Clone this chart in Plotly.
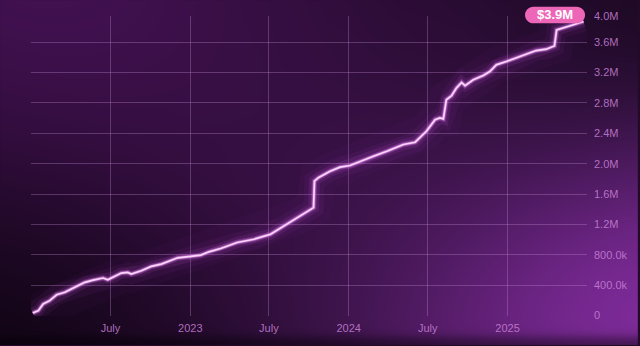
import base64, struct, zlib
import numpy as np
import pandas as pd
import plotly.graph_objects as go

# ---------------- data ----------------
dates = ["2022-01-03", "2022-01-16", "2022-01-27", "2022-02-11", "2022-02-27", "2022-03-18",
         "2022-04-10", "2022-05-03", "2022-05-22", "2022-06-14", "2022-06-25", "2022-07-07",
         "2022-07-26", "2022-08-10", "2022-08-18", "2022-09-10", "2022-10-03", "2022-10-26",
         "2022-12-03", "2023-01-02", "2023-01-25", "2023-02-13", "2023-03-12", "2023-04-19",
         "2023-05-28", "2023-07-05", "2023-08-04", "2023-09-11", "2023-10-12", "2023-10-14",
         "2023-10-23", "2023-11-19", "2023-12-12", "2024-01-04", "2024-01-27", "2024-02-27",
         "2024-03-29", "2024-05-06", "2024-06-02", "2024-06-28", "2024-07-18", "2024-07-29",
         "2024-08-06", "2024-08-13", "2024-08-25", "2024-09-05", "2024-09-17", "2024-09-25",
         "2024-10-14", "2024-11-06", "2024-11-21", "2024-12-06", "2024-12-29", "2025-01-29",
         "2025-03-08", "2025-03-31", "2025-04-19", "2025-04-24", "2025-05-08", "2025-05-31",
         "2025-06-25"]
values = [35e3, 66e3, 153e3, 197e3, 275e3, 307e3,
          373e3, 438e3, 468e3, 495e3, 472e3, 504e3,
          560e3, 569e3, 547e3, 590e3, 648e3, 678e3,
          761e3, 779e3, 796e3, 840e3, 884e3, 963e3,
          1006e3, 1072e3, 1181e3, 1312e3, 1422e3, 1771e3,
          1816e3, 1902e3, 1955e3, 1977e3, 2033e3, 2099e3,
          2165e3, 2253e3, 2283e3, 2427e3, 2580e3, 2603e3,
          2590e3, 2843e3, 2895e3, 2996e3, 3070e3, 3027e3,
          3105e3, 3162e3, 3214e3, 3302e3, 3345e3, 3411e3,
          3490e3, 3508e3, 3551e3, 3761e3, 3784e3, 3827e3,
          3873e3]

x_tick_vals = ["2022-01-01", "2022-07-01", "2023-01-01", "2023-07-01",
               "2024-01-01", "2024-07-01", "2025-01-01", "2025-07-01"]
x_tick_text = ["", "July", "2023", "July", "2024", "July", "2025", ""]
y_tick_vals = [0, 400e3, 800e3, 1.2e6, 1.6e6, 2.0e6, 2.4e6, 2.8e6, 3.2e6, 3.6e6]
y_tick_text = ["0", "400.0k", "800.0k", "1.2M", "1.6M", "2.0M", "2.4M", "2.8M", "3.2M", "3.6M"]
y_top_label = "4.0M"
last_label = "$3.9M"

# ---------------- layout geometry ----------------
W, H = 640, 346
ML, MR, MT, MB = 31, 51, 16, 29
PW, PH = W - ML - MR, H - MT - MB
x_range = ["2021-12-30", "2025-07-03"]
y_range = [-5000, 3945000]

# ---------------- background image (decoration) ----------------
yy, xx = np.mgrid[0:H, 0:W].astype(float)
base = np.array([30, 9, 37], float)
img = np.zeros((H, W, 3)) + base
tl = np.exp(-(((xx - 40) ** 2) + (yy + 30) ** 2) / (2 * 230.0 ** 2))
img += np.array([36, 8, 44]) * tl[..., None]
br = np.exp(-(((xx - 680) ** 2) / (2 * 240.0 ** 2) + ((yy - 320) ** 2) / (2 * 150.0 ** 2)))
img += np.array([96, 34, 116]) * br[..., None]
d = ((xx - 640) * 0.66 + (yy - 0) * 0.75)
band = np.exp(-((d - 60) ** 2) / (2 * 90.0 ** 2)) * np.exp(-((yy - 60) ** 2) / (2 * 160.0 ** 2))
img -= np.array([14, 4, 16]) * band[..., None]
bl = np.exp(-((xx + 20) ** 2 / (2 * 170.0 ** 2) + (yy - 360) ** 2 / (2 * 140.0 ** 2)))
img *= (1 - 0.55 * bl)[..., None]
bs = 1 / (1 + np.exp(-(yy - 338) / 3.0))
img *= (1 - 0.45 * bs)[..., None]
img = np.clip(img, 0, 255).astype(np.uint8)


def png_uri(a):
    h, w, _ = a.shape
    raw = b"".join(b"\x00" + a[i].tobytes() for i in range(h))

    def chunk(t, dd):
        return struct.pack(">I", len(dd)) + t + dd + struct.pack(">I", zlib.crc32(t + dd) & 0xFFFFFFFF)

    png = (b"\x89PNG\r\n\x1a\n" + chunk(b"IHDR", struct.pack(">IIBBBBB", w, h, 8, 2, 0, 0, 0))
           + chunk(b"IDAT", zlib.compress(raw, 9)) + chunk(b"IEND", b""))
    return "data:image/png;base64," + base64.b64encode(png).decode()


# ---------------- figure ----------------
fig = go.Figure()
glow = [(36, 0.03, "#c040e0"), (20, 0.055, "#cc50e6"), (11, 0.11, "#d860ee"),
        (5.5, 0.26, "#e070f0"), (3.2, 0.5, "#ee9af6")]
for wdt, op, col in glow:
    fig.add_trace(go.Scatter(x=dates, y=values, mode="lines",
                             line=dict(color=col, width=wdt), opacity=op,
                             hoverinfo="skip", showlegend=False))
fig.add_trace(go.Scatter(x=dates, y=values, mode="lines",
                         line=dict(color="#fbd6fb", width=1.7),
                         showlegend=False))

# badge anchored (in paper units) at the last data point, so it is not clipped
t0, t1 = pd.Timestamp(x_range[0]), pd.Timestamp(x_range[1])
last_px = (pd.Timestamp(dates[-1]) - t0) / (t1 - t0)
last_py = (values[-1] - y_range[0]) / (y_range[1] - y_range[0])
r = 8.3
xl, xr, yb, yt = -58.5, 1.5, -1.8, 14.8
k = 0.5523 * r
ym = (yb + yt) / 2
pill = (f"M {xl + r},{yt} L {xr - r},{yt} "
        f"C {xr - r + k},{yt} {xr},{ym + k} {xr},{ym} "
        f"C {xr},{ym - k} {xr - r + k},{yb} {xr - r},{yb} "
        f"L {xl + r},{yb} "
        f"C {xl + r - k},{yb} {xl},{ym - k} {xl},{ym} "
        f"C {xl},{ym + k} {xl + r - k},{yt} {xl + r},{yt} Z")
fig.add_shape(type="path", xref="paper", yref="paper", xsizemode="pixel", ysizemode="pixel",
              xanchor=last_px, yanchor=last_py, path=pill,
              fillcolor="#ee66b7", line=dict(width=0), layer="above")
fig.add_annotation(x=last_px, y=last_py, xref="paper", yref="paper", text=f"<b>{last_label}</b>",
                   showarrow=False, xanchor="center", yanchor="middle",
                   xshift=(xl + xr) / 2, yshift=ym,
                   font=dict(family="Liberation Sans, Arial", size=13, color="#ffffff"))
fig.add_annotation(x=1, y=1, xref="paper", yref="paper", text=y_top_label, showarrow=False,
                   xanchor="left", yanchor="middle", xshift=5,
                   font=dict(family="Liberation Sans, Arial", size=11, color="rgba(200,130,215,0.85)"))

fig.add_layout_image(dict(source=png_uri(img), xref="paper", yref="paper",
                          x=-ML / PW, y=1 + MT / PH, sizex=W / PW, sizey=H / PH,
                          xanchor="left", yanchor="top", sizing="stretch", layer="below"))

grid = "rgba(195,140,210,0.33)"
tickfont = dict(family="Liberation Sans, Arial", size=11, color="rgba(200,130,215,0.85)")
fig.update_layout(
    width=W, height=H, margin=dict(l=ML, r=MR, t=MT, b=MB),
    paper_bgcolor="#220a28", plot_bgcolor="rgba(0,0,0,0)",
    xaxis=dict(type="date", range=x_range, tickvals=x_tick_vals,
               ticktext=x_tick_text, showgrid=True, gridcolor=grid, gridwidth=1,
               zeroline=False, showline=False, ticks="", tickfont=tickfont,
               ticklabelstandoff=4, fixedrange=True),
    yaxis=dict(range=y_range, side="right", tickvals=y_tick_vals,
               ticktext=y_tick_text, showgrid=True, gridcolor=grid, gridwidth=1,
               zeroline=False, showline=False, ticks="", tickfont=tickfont,
               ticklabelstandoff=6, fixedrange=True),
    showlegend=False,
)

fig.write_html("out.html")
